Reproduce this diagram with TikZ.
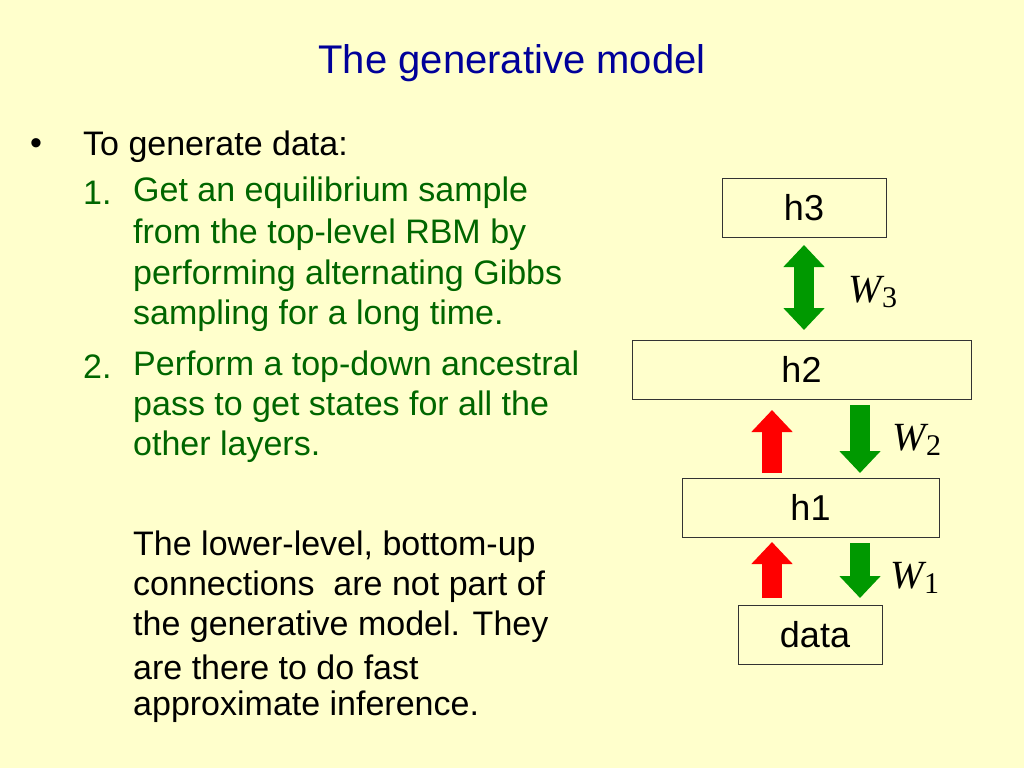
\documentclass[tikz,border=0pt]{standalone}
\usepackage{fontspec}
\setmainfont{Liberation Sans}
\newfontfamily\tms{Liberation Serif}
\usetikzlibrary{arrows.meta}
\definecolor{bg}{RGB}{255,255,204}
\definecolor{ttl}{RGB}{0,0,153}
\definecolor{grn}{RGB}{0,102,0}
\definecolor{agrn}{RGB}{0,153,0}
\definecolor{ared}{RGB}{255,0,0}
\begin{document}
\begin{tikzpicture}[x=1pt,y=1pt,
  layer/.style={draw=black!80,line width=0.8pt,fill=bg,inner sep=0pt,font=\fontsize{36}{36}\selectfont},
  txt/.style={anchor=west,inner sep=0pt,font=\fontsize{34}{36}\selectfont},
  gtxt/.style={txt,text=grn},
  blk/.style={line width=20pt,-{Triangle[width=40pt,length=22pt]}},
  wlab/.style={font=\tms\itshape\fontsize{40}{40}\selectfont,inner sep=0pt}]
\fill[bg] (0,0) rectangle (1024,-768);
\useasboundingbox (0,0) rectangle (1024,-768);
\node[text=ttl,font=\fontsize{40}{40}\selectfont] (title) at (512,-63) {The generative model};
\node[txt] (bul) at (30,-147) {•};
\node[txt] (l0) at (83,-147) {To generate data:};
\node[gtxt] (n1) at (83,-193) {1.};
\node[gtxt] (a1) at (133,-193) {Get an equilibrium sample};
\node[gtxt] (a2) at (133,-235) {from the top-level RBM by};
\node[gtxt] (a3) at (133,-276) {performing alternating Gibbs};
\node[gtxt] (a4) at (133,-316) {sampling for a long time.};
\node[gtxt] (n2) at (83,-367) {2.};
\node[gtxt] (b1) at (133,-367) {Perform a top-down ancestral};
\node[gtxt] (b2) at (133,-407) {pass to get states for all the};
\node[gtxt] (b3) at (133,-447) {other layers.};
\node[txt] (c1) at (133,-547) {The lower-level, bottom-up};
\node[txt] (c2) at (133,-587) {connections\ \ are not part of};
\node[txt] (c3) at (133,-627) {the generative model. They};
\node[txt] (c4) at (133,-667) {are there to do fast};
\node[txt] (c5) at (133,-707) {approximate inference.};
\node[layer,minimum width=164pt,minimum height=59pt] (h3) at (804,-207.5) {h3};
\node[layer,minimum width=339pt,minimum height=59pt] (h2) at (801.5,-369.5) {h2};
\node[layer,minimum width=257pt,minimum height=59pt] (h1) at (810.5,-507.5) {h1};
\node[layer,minimum width=144pt,minimum height=59pt] (data) at (810,-634.5) {\hspace{10pt}data};
\draw[agrn,line width=20pt,{Triangle[width=40pt,length=22pt]}-{Triangle[width=40pt,length=22pt]}] (804,-245) -- (804,-330);
\draw[ared,blk] (772,-473) -- (772,-410);
\draw[agrn,blk] (860,-405) -- (860,-473);
\draw[ared,blk] (772,-598) -- (772,-542);
\draw[agrn,blk] (860,-543) -- (860,-598);
\node[wlab] (w3) at (873,-292) {W\raisebox{-5pt}{\fontsize{30}{30}\selectfont\upshape 3}};
\node[wlab] (w2) at (917,-440) {W\raisebox{-5pt}{\fontsize{30}{30}\selectfont\upshape 2}};
\node[wlab] (w1) at (915,-578) {W\raisebox{-5pt}{\fontsize{30}{30}\selectfont\upshape 1}};
\end{tikzpicture}
\end{document}
